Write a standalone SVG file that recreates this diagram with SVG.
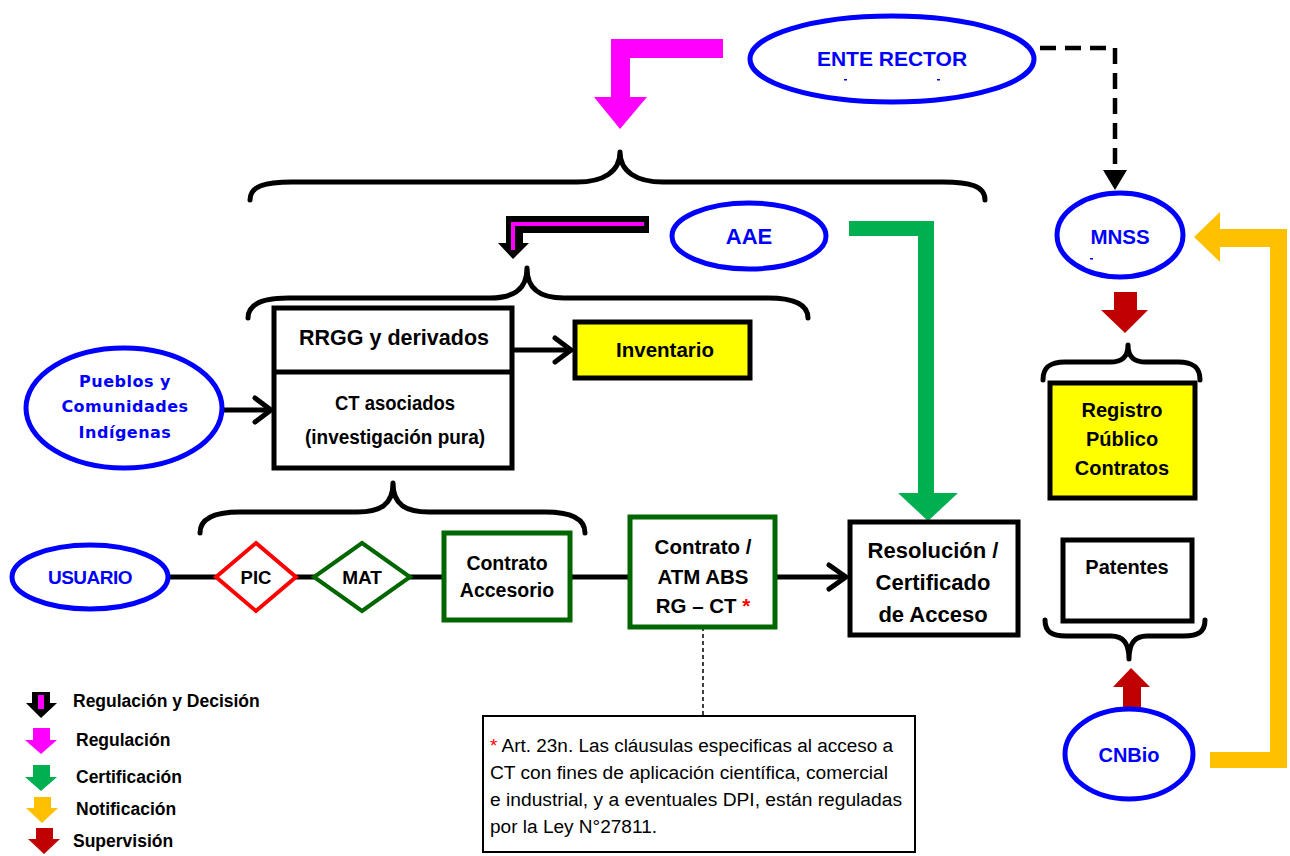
<svg xmlns="http://www.w3.org/2000/svg" width="1290" height="856" viewBox="0 0 1290 856">
  <style>
    .ell { fill: #ffffff; stroke: #0000ff; stroke-width: 5; }
    .box { fill: #ffffff; stroke: #000000; stroke-width: 5; }
    .ybox { fill: #ffff00; stroke: #000000; stroke-width: 5; }
    .gbox { fill: #ffffff; stroke: #006600; stroke-width: 5; }
    .brace { fill: none; stroke: #000000; stroke-width: 5; stroke-linecap: round; stroke-linejoin: round; }
    .line { fill: none; stroke: #000000; stroke-width: 5; }
    .chev { fill: none; stroke: #000000; stroke-width: 5; stroke-linecap: round; stroke-linejoin: round; }
    .bt { font-family: "Liberation Sans", Arial, sans-serif; font-weight: bold; fill: #000000; text-anchor: middle; }
    .blue { font-family: "Liberation Sans", Arial, sans-serif; font-weight: bold; fill: #0000ff; text-anchor: middle; }
    .pci { font-family: "DejaVu Sans", sans-serif; font-weight: bold; font-size: 16px; fill: #0000ff; text-anchor: middle; letter-spacing: 0.5px; }
    .leg { font-family: "Liberation Sans", Arial, sans-serif; font-weight: bold; font-size: 17.5px; fill: #000000; }
    .note { font-family: "Liberation Sans", Arial, sans-serif; font-size: 18px; fill: #000000; }
    .mag { fill: #ff00ff; }
    .grn { fill: #00b050; }
    .yel { fill: #ffc000; }
    .red { fill: #c00000; }
  </style>

  <rect width="1290" height="856" fill="#ffffff"/>

  <!-- thick flow arrows -->
  <g id="flow-arrows">
    <polygon class="mag" points="723,39 611,39 611,97 594,97 620,129 647,97 630,97 630,58 723,58"/>
    <polygon class="grn" points="849,221 934,221 934,493 958,493 928,521 898,493 918,493 918,236 849,236"/>
    <polygon class="yel" points="1194,237 1220,212 1220,229 1287,229 1287,768 1210,768 1210,752 1270,752 1270,247 1220,247 1220,262"/>
    <polygon class="red" points="1114,292 1137,292 1137,310 1148,310 1125,333 1101,310 1114,310"/>
    <polygon class="red" points="1131,668 1150,687 1141,687 1141,708 1123,708 1123,687 1113,687"/>
    <!-- regulation and decision arrow: black outline with magenta core -->
    <polygon fill="#000000" points="649,216 649,233 523,233 523,243 529,243 513,259 498,243 506,243 506,216"/>
    <polyline points="644,224 513,224 513,250" fill="none" stroke="#ff00ff" stroke-width="4"/>
  </g>

  <!-- braces -->
  <g id="braces">
    <path class="brace" d="M250,200 C250,186 265,182 292,182 L577,182 C603,182 620,172 620,152 C620,172 637,182 663,182 L943,182 C970,182 985,186 985,200"/>
    <path class="brace" d="M248,318 C248,304 262,298 288,298 L490,298 C513,298 527,290 527,268 C527,290 541,298 564,298 L768,298 C794,298 808,304 808,318"/>
    <path class="brace" d="M200,533 C200,518 215,512 240,512 L357,512 C380,512 393,505 393,483 C393,505 406,512 429,512 L545,512 C570,512 585,518 585,533"/>
    <path class="brace" d="M1043,380 C1043,367 1050,362 1065,362 L1110,362 C1122,362 1128,357 1128,345 C1128,357 1134,362 1146,362 L1178,362 C1193,362 1200,367 1200,380"/>
    <path class="brace" d="M1045,620 C1045,632 1052,636 1066,636 L1111,636 C1123,636 1129,643 1129,659 C1129,643 1135,636 1147,636 L1184,636 C1198,636 1205,632 1205,620"/>
  </g>

  <!-- connectors -->
  <g id="connectors">
    <path d="M1040,48 H1115 V172" fill="none" stroke="#000000" stroke-width="4.5" stroke-dasharray="16 9"/>
    <polygon points="1103,170 1127,170 1115,190" fill="#000000"/>
    <line class="line" x1="512" y1="350" x2="571" y2="350"/>
    <polyline class="chev" points="555,338 571,350 555,362"/>
    <line class="line" x1="222" y1="410" x2="271" y2="410"/>
    <polyline class="chev" points="255,398 271,410 255,422"/>
    <line class="line" x1="168" y1="577" x2="846" y2="577"/>
    <polyline class="chev" points="829,565 846,577 829,589"/>
    <line x1="703" y1="627" x2="703" y2="716" stroke="#000000" stroke-width="1.5" stroke-dasharray="4 3"/>
  </g>

  <!-- nodes -->
  <g id="ente-rector">
    <ellipse class="ell" cx="892" cy="59" rx="142" ry="43"/>
    <text class="blue" x="892" y="66" font-size="21">ENTE RECTOR</text>
    <rect x="844" y="79" width="3" height="1.5" fill="#0000ff"/>
    <rect x="937" y="79" width="3" height="1.5" fill="#0000ff"/>
  </g>

  <g id="mnss">
    <ellipse class="ell" cx="1120" cy="235" rx="63" ry="42"/>
    <text class="blue" x="1120" y="244" font-size="20.5">MNSS</text>
    <rect x="1090" y="258" width="3" height="1.5" fill="#0000ff"/>
  </g>

  <g id="aae">
    <ellipse class="ell" cx="749" cy="236" rx="77" ry="33"/>
    <text class="blue" x="749" y="244" font-size="22">AAE</text>
  </g>

  <g id="rrgg">
    <rect class="box" x="274" y="308" width="238" height="160"/>
    <line x1="274" y1="372" x2="512" y2="372" stroke="#000000" stroke-width="5"/>
    <text class="bt" x="394" y="345" font-size="21.5">RRGG y derivados</text>
    <text class="bt" x="395" y="410" font-size="20" textLength="120" lengthAdjust="spacingAndGlyphs">CT asociados</text>
    <text class="bt" x="395" y="444" font-size="20" textLength="180" lengthAdjust="spacingAndGlyphs">(investigación pura)</text>
  </g>

  <g id="inventario">
    <rect class="ybox" x="575" y="322" width="175" height="56"/>
    <text class="bt" x="665" y="357" font-size="20.5">Inventario</text>
  </g>

  <g id="pueblos">
    <ellipse class="ell" cx="124" cy="408" rx="98" ry="60"/>
    <text class="pci" x="125" y="387">Pueblos y</text>
    <text class="pci" x="125" y="412">Comunidades</text>
    <text class="pci" x="125" y="438">Indígenas</text>
  </g>

  <g id="usuario">
    <ellipse class="ell" cx="90" cy="577" rx="78" ry="32"/>
    <text class="blue" x="90" y="584" font-size="19" letter-spacing="-0.5">USUARIO</text>
  </g>

  <g id="pic">
    <polygon points="256,543 296,577 256,611 216,577" fill="#ffffff" stroke="#ff0000" stroke-width="4"/>
    <text class="bt" x="256" y="584" font-size="18.5">PIC</text>
  </g>

  <g id="mat">
    <polygon points="362,543 410,577 362,611 314,577" fill="#ffffff" stroke="#006600" stroke-width="4"/>
    <text class="bt" x="362" y="584" font-size="19">MAT</text>
  </g>

  <g id="contrato-accesorio">
    <rect class="gbox" x="444" y="533" width="126" height="87"/>
    <text class="bt" x="507" y="570" font-size="19.5">Contrato</text>
    <text class="bt" x="507" y="597" font-size="19.5">Accesorio</text>
  </g>

  <g id="contrato-atm">
    <rect class="gbox" x="630" y="517" width="145" height="110"/>
    <text class="bt" x="703" y="554" font-size="20.5">Contrato /</text>
    <text class="bt" x="703" y="584" font-size="20.5">ATM ABS</text>
    <text class="bt" x="703" y="613" font-size="20.5">RG – CT <tspan fill="#ff0000">*</tspan></text>
  </g>

  <g id="resolucion">
    <rect class="box" x="850" y="522" width="168" height="113"/>
    <text class="bt" x="933" y="558" font-size="22">Resolución /</text>
    <text class="bt" x="933" y="590" font-size="22">Certificado</text>
    <text class="bt" x="933" y="622" font-size="22">de Acceso</text>
  </g>

  <g id="registro">
    <rect class="ybox" x="1050" y="383" width="145" height="115"/>
    <text class="bt" x="1122" y="417" font-size="20">Registro</text>
    <text class="bt" x="1122" y="446" font-size="20">Público</text>
    <text class="bt" x="1122" y="475" font-size="20">Contratos</text>
  </g>

  <g id="patentes">
    <rect class="box" x="1063" y="540" width="129" height="81"/>
    <text class="bt" x="1127" y="574" font-size="20">Patentes</text>
  </g>

  <g id="cnbio">
    <ellipse class="ell" cx="1129" cy="754" rx="64" ry="45"/>
    <text class="blue" x="1129" y="762" font-size="20">CNBio</text>
  </g>

  <g id="nota">
    <rect x="483" y="716" width="432" height="136" fill="#ffffff" stroke="#000000" stroke-width="2"/>
    <text class="note" x="490" y="752" textLength="403" lengthAdjust="spacingAndGlyphs"><tspan fill="#ff0000">*</tspan> Art. 23n. Las cláusulas especificas al acceso a</text>
    <text class="note" x="490" y="779" textLength="398" lengthAdjust="spacingAndGlyphs">CT con fines de aplicación científica, comercial</text>
    <text class="note" x="490" y="806" textLength="412" lengthAdjust="spacingAndGlyphs">e industrial, y a eventuales DPI, están reguladas</text>
    <text class="note" x="490" y="833" textLength="167" lengthAdjust="spacingAndGlyphs">por la Ley N°27811.</text>
  </g>

  <!-- legend -->
  <g id="leyenda">
    <polygon fill="#000000" points="32,692 50,692 50,703 57,703 41,718 26,703 32,703"/>
    <rect x="38" y="695" width="6" height="14" fill="#ff00ff"/>
    <text class="leg" x="73" y="707">Regulación y Decisión</text>
    <polygon class="mag" points="33,728 50,728 50,740 57,740 41,754 25,740 33,740"/>
    <text class="leg" x="76" y="746">Regulación</text>
    <polygon class="grn" points="33,765 50,765 50,777 57,777 41,791 25,777 33,777"/>
    <text class="leg" x="76" y="783">Certificación</text>
    <polygon class="yel" points="34,797 51,797 51,808 58,808 42,823 26,808 34,808"/>
    <text class="leg" x="76" y="815">Notificación</text>
    <polygon class="red" points="36,828 53,828 53,839 60,839 44,854 28,839 36,839"/>
    <text class="leg" x="73" y="847">Supervisión</text>
  </g>
</svg>
